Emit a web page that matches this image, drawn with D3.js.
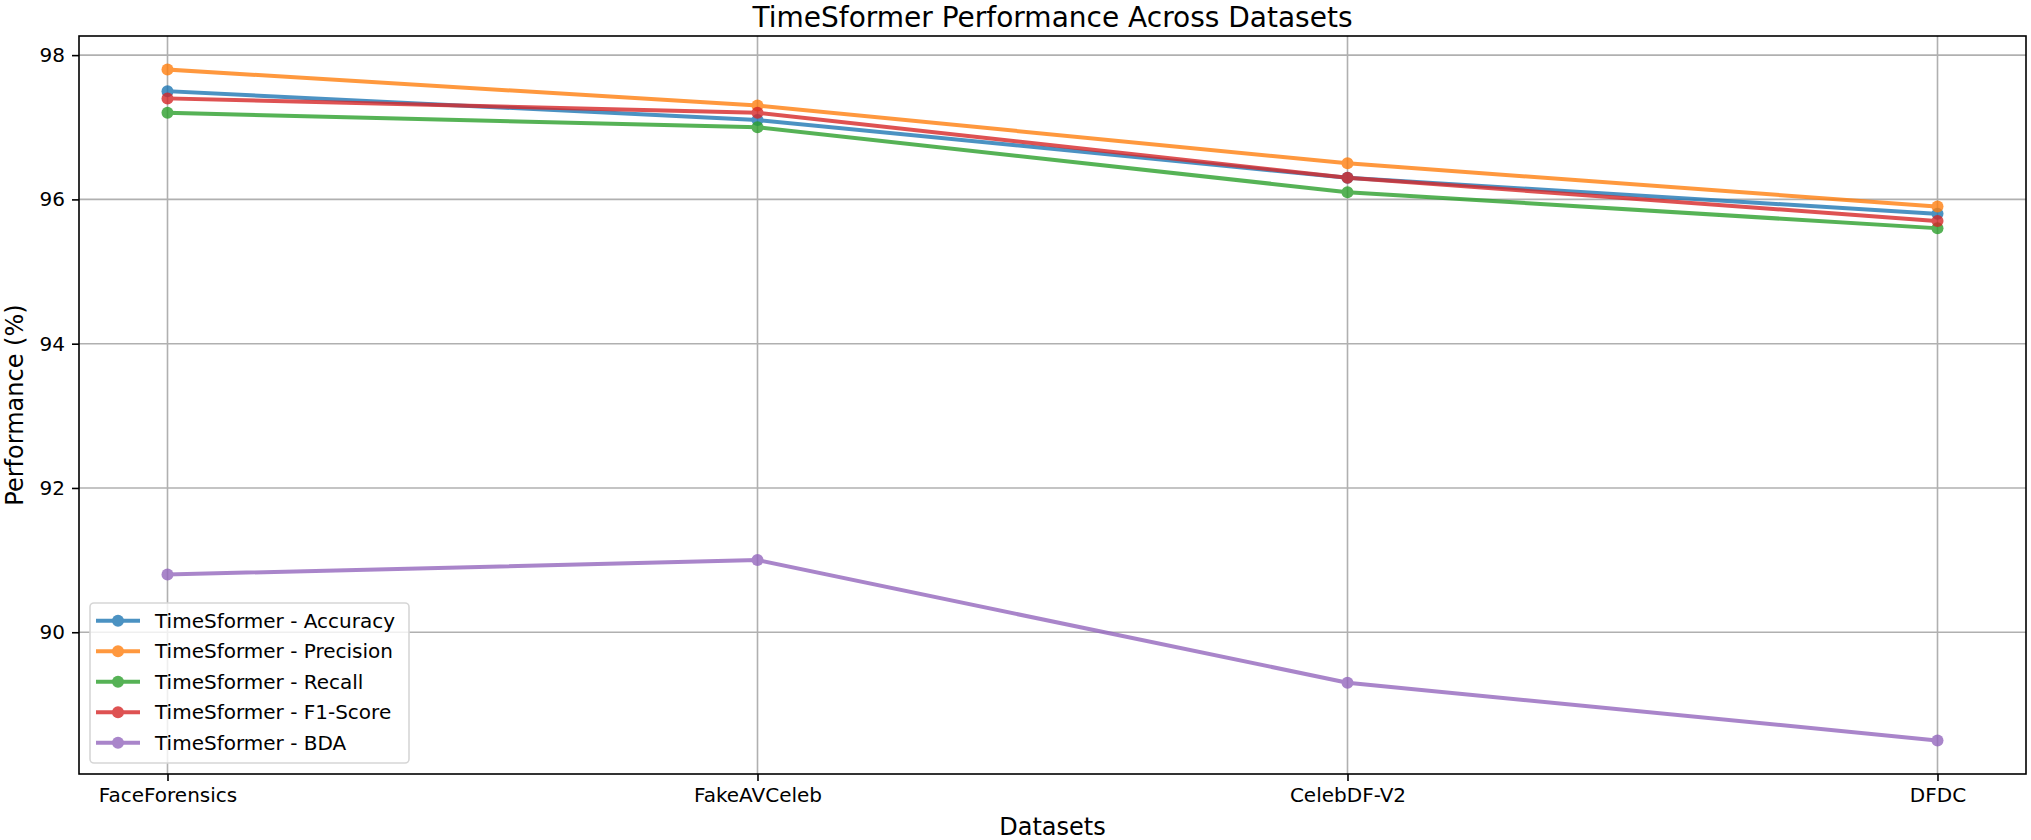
<!DOCTYPE html>
<html>
<head>
<meta charset="utf-8">
<script src="https://cdn.jsdelivr.net/npm/d3@7"></script>
<style>
  html, body { margin: 0; padding: 0; background: #fff; }
  svg { display: block; font-family: "DejaVu Sans", sans-serif; }
</style>
</head>
<body>
<svg id="chart" width="2031" height="840"></svg>
<script>
// ---- data ----
const categories = ["FaceForensics", "FakeAVCeleb", "CelebDF-V2", "DFDC"];
const seriesNames = ["TimeSformer - Accuracy", "TimeSformer - Precision", "TimeSformer - Recall", "TimeSformer - F1-Score", "TimeSformer - BDA"];
const accuracy  = [97.5, 97.1, 96.3, 95.8];
const precision = [97.8, 97.3, 96.5, 95.9];
const recall    = [97.2, 97.0, 96.1, 95.6];
const f1score   = [97.4, 97.2, 96.3, 95.7];
const bda       = [90.8, 91.0, 89.3, 88.5];
const yTicks = [90, 92, 94, 96, 98];
const colors = ["#1f77b4", "#ff7f0e", "#2ca02c", "#d62728", "#9467bd"];
const chartTitle = "TimeSformer Performance Across Datasets";
const xLabel = "Datasets";
const yLabel = "Performance (%)";

const seriesValues = [accuracy, precision, recall, f1score, bda];

// ---- layout ----
const svg = d3.select("#chart");
const mLeft = 79, mRight = 2026, mTop = 36, mBottom = 774;

const x = d3.scaleLinear().domain([-0.15, 3.15]).range([mLeft, mRight]);
const allVals = seriesValues.flat();
const vmin = d3.min(allVals), vmax = d3.max(allVals);
const pad = (vmax - vmin) * 0.05;
const y = d3.scaleLinear().domain([vmin - pad, vmax + pad]).range([mBottom, mTop]);

// grid
const grid = svg.append("g");
categories.forEach((c, i) => {
  grid.append("line").attr("x1", x(i)).attr("x2", x(i)).attr("y1", mTop).attr("y2", mBottom)
    .attr("stroke", "#b0b0b0").attr("stroke-width", 1.6);
});
yTicks.forEach(t => {
  grid.append("line").attr("x1", mLeft).attr("x2", mRight).attr("y1", y(t)).attr("y2", y(t))
    .attr("stroke", "#b0b0b0").attr("stroke-width", 1.6);
});

// axes
const xAxis = d3.axisBottom(x).tickValues(d3.range(categories.length))
  .tickFormat(i => categories[i]).tickSize(7).tickPadding(7);
const gx = svg.append("g").attr("transform", `translate(0,${mBottom})`).call(xAxis);
const yAxis = d3.axisLeft(y).tickValues(yTicks).tickFormat(d3.format("d")).tickSize(7).tickPadding(7);
const gy = svg.append("g").attr("transform", `translate(${mLeft},0)`).call(yAxis);
[gx, gy].forEach(g => {
  g.select(".domain").remove();
  g.selectAll(".tick line").attr("stroke", "#000").attr("stroke-width", 1.6);
  g.selectAll(".tick text").attr("fill", "#000").style("font-size", "20px")
    .style("font-family", "DejaVu Sans, sans-serif");
});

// lines
const line = d3.line().x((d, i) => x(i)).y(d => y(d));
seriesValues.forEach((vals, s) => {
  const g = svg.append("g").attr("opacity", 0.8);
  g.append("path").datum(vals).attr("d", line).attr("fill", "none")
    .attr("stroke", colors[s]).attr("stroke-width", 4).attr("stroke-linejoin", "round")
    .attr("stroke-linecap", "square");
  g.selectAll("circle").data(vals).enter().append("circle")
    .attr("cx", (d, i) => x(i)).attr("cy", d => y(d)).attr("r", 6)
    .attr("fill", colors[s]);
});

// spines
svg.append("rect").attr("x", mLeft).attr("y", mTop).attr("width", mRight - mLeft).attr("height", mBottom - mTop)
  .attr("fill", "none").attr("stroke", "#000").attr("stroke-width", 1.6);

// title and labels
svg.append("text").attr("x", (mLeft + mRight) / 2).attr("y", 26.5).attr("text-anchor", "middle")
  .style("font-size", "28px").attr("fill", "#000").text(chartTitle);
svg.append("text").attr("x", (mLeft + mRight) / 2).attr("y", 835).attr("text-anchor", "middle")
  .style("font-size", "24px").attr("fill", "#000").text(xLabel);
svg.append("text").attr("transform", `translate(23,${(mTop + mBottom) / 2}) rotate(-90)`)
  .attr("text-anchor", "middle").style("font-size", "24px").attr("fill", "#000").text(yLabel);

// legend
const lg = svg.append("g");
lg.append("rect").attr("x", 90).attr("y", 603).attr("width", 319).attr("height", 160)
  .attr("rx", 4).attr("fill", "#fff").attr("fill-opacity", 0.8)
  .attr("stroke", "#d6d6d6").attr("stroke-width", 1.6);
seriesNames.forEach((name, s) => {
  const cy = 620.7 + s * 30.5;
  const row = lg.append("g");
  const h = row.append("g").attr("opacity", 0.8);
  h.append("line").attr("x1", 96).attr("x2", 140).attr("y1", cy).attr("y2", cy)
    .attr("stroke", colors[s]).attr("stroke-width", 4);
  h.append("circle").attr("cx", 118).attr("cy", cy).attr("r", 6).attr("fill", colors[s]);
  row.append("text").attr("x", 155).attr("y", cy).attr("dy", "0.36em")
    .style("font-size", "20px").attr("fill", "#000").text(name);
});
</script>
</body>
</html>
